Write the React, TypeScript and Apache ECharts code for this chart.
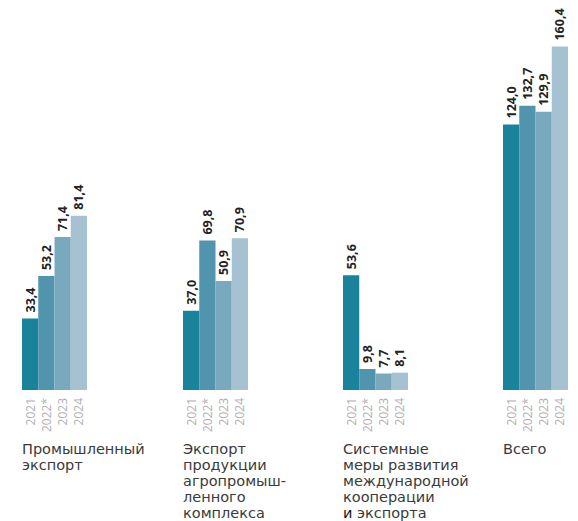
import React, { useEffect, useRef } from "react";
import * as echarts from "echarts";

const years = ["2021", "2022*", "2023", "2024"];
const categories = [
  "Промышленный\nэкспорт",
  "Экспорт\nпродукции\nагропромыш-\nленного\nкомплекса",
  "Системные\nмеры развития\nмеждународной\nкооперации\n{b|и} экспорта",
  "Всего",
];
const industrial = [33.4, 53.2, 71.4, 81.4];
const agro = [37.0, 69.8, 50.9, 70.9];
const systemic = [53.6, 9.8, 7.7, 8.1];
const total = [124.0, 132.7, 129.9, 160.4];
const groups = [industrial, agro, systemic, total];
const colors = ["#19839b", "#5094ad", "#79a9bd", "#a6c2d2"];

const groupLefts = [22, 183, 343, 503];
const groupWidth = 65;
const gridTop = 26;
const gridHeight = 364;

export default function App() {
  const ref = useRef<HTMLDivElement>(null);
  useEffect(() => {
    if (!ref.current) return;
    const chart = echarts.init(ref.current, null, { renderer: "svg" });
    const grid = groups.map((_, i) => ({
      left: groupLefts[i],
      width: groupWidth,
      top: gridTop,
      height: gridHeight,
    }));
    const xAxis = groups.map((_, i) => ({
      type: "category",
      gridIndex: i,
      data: years,
      axisLine: { show: false },
      axisTick: { show: false },
      axisLabel: {
        rotate: 90,
        interval: 0,
        margin: 8,
        color: "#b0b0b0",
        fontSize: 12,
        fontFamily: "Open Sans",
      },
    }));
    const yAxis = groups.map((_, i) => ({
      type: "value",
      gridIndex: i,
      min: 0,
      max: 170,
      show: false,
      splitLine: { show: false },
    }));
    const series = groups.map((vals, i) => ({
      type: "bar",
      xAxisIndex: i,
      yAxisIndex: i,
      barCategoryGap: "0%",
      data: vals.map((v, j) => ({ value: v, itemStyle: { color: colors[j] } })),
      label: {
        show: true,
        position: "top",
        rotate: 90,
        align: "left",
        verticalAlign: "middle",
        distance: 6,
        fontFamily: "Open Sans",
        fontWeight: "bold",
        fontSize: 12.5,
        color: "#222",
        formatter: (p: any) => Number(p.value).toFixed(1).replace(".", ","),
      },
    }));
    const graphic = categories.map((t, i) => ({
      type: "text",
      left: groupLefts[i],
      top: 441,
      style: {
        text: t,
        fontFamily: "DejaVu Sans",
        fontSize: 14.5,
        lineHeight: 16,
        fill: "#3a3a3a",
        rich: {
          b: { fontFamily: "DejaVu Sans", fontSize: 14.5, lineHeight: 16, fill: "#151515" },
        },
      },
    }));
    chart.setOption({
      animation: false,
      grid,
      xAxis,
      yAxis,
      series,
      graphic,
    } as any);
    return () => chart.dispose();
  }, []);
  return (
    <div
      ref={ref}
      style={{ position: "absolute", left: 0, top: 0, width: 578, height: 521 }}
    />
  );
}
